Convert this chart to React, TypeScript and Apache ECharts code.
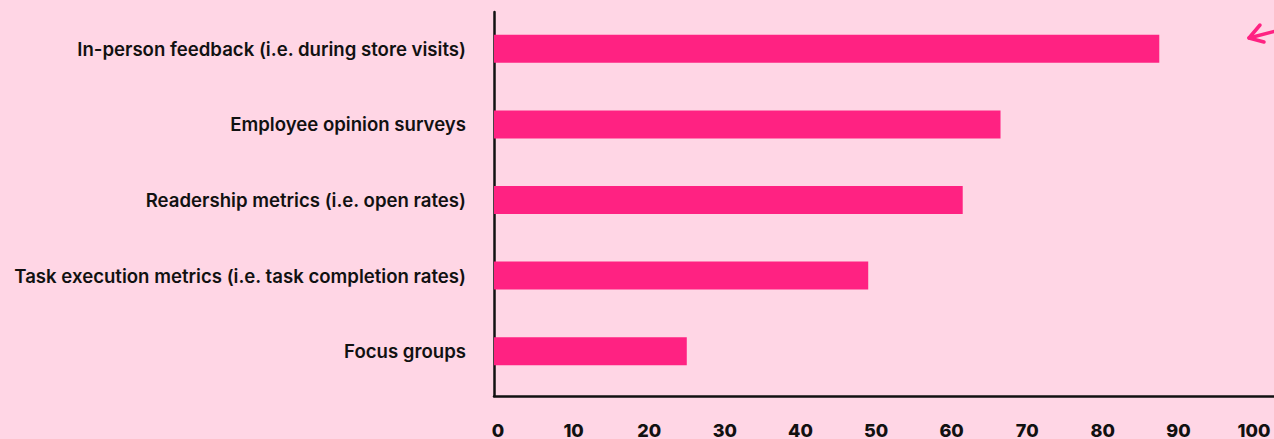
import React, { useEffect, useRef } from "react";
import * as echarts from "echarts";

const categories = [
  "In-person feedback (i.e. during store visits)",
  "Employee opinion surveys",
  "Readership metrics (i.e. open rates)",
  "Task execution metrics (i.e. task completion rates)",
  "Focus groups",
];
const values = [88, 67, 62, 49.5, 25.5];
const xMin = 0;
const xMax = 100;
const xStep = 10;
// the drawn axis line runs to the right edge; extend its scale so ticks match the bars
const xAxisLineMax = 103.17;

const BG = "#FFD6E5";
const PINK = "#FF2282";
const FONT = "Inter, 'Noto Sans', sans-serif";

export default function App() {
  const ref = useRef<HTMLDivElement>(null);
  useEffect(() => {
    document.body.style.margin = "0";
    const chart = echarts.init(ref.current!, undefined, { renderer: "svg" });
    chart.setOption({
      animation: false,
      backgroundColor: BG,
      grid: [
        { left: 494, right: 24, top: 11, height: 378, containLabel: false },
        { left: 494, right: 0, top: 12, bottom: 40, containLabel: false },
      ],
      xAxis: [
        {
          gridIndex: 0,
          type: "value",
          min: xMin,
          max: xMax,
          interval: xStep,
          show: false,
        },
        {
          gridIndex: 1,
          type: "value",
          min: xMin,
          max: xAxisLineMax,
          interval: xStep,
          axisLine: { show: true, lineStyle: { color: "#111", width: 2.5 } },
          axisTick: { show: false },
          splitLine: { show: false },
          axisLabel: {
            margin: 25,
            color: "#111",
            fontFamily: FONT,
            fontSize: 18,
            fontWeight: 800,
            padding: [0, 0, 0, 8],
            showMaxLabel: false,
            formatter: (v: number) => (v % xStep === 0 && v <= xMax ? String(v) : ""),
          },
        },
      ],
      yAxis: [
        {
          gridIndex: 0,
          type: "category",
          data: categories,
          inverse: true,
          axisLine: { show: false },
          axisTick: { show: false },
          axisLabel: {
            margin: 28,
            color: "#111",
            fontFamily: FONT,
            fontSize: 18.6,
            fontWeight: 600,
          },
        },
        {
          gridIndex: 1,
          type: "value",
          min: 0,
          max: 1,
          axisLine: { show: true, lineStyle: { color: "#111", width: 2.5 } },
          axisTick: { show: false },
          axisLabel: { show: false },
          splitLine: { show: false },
        },
      ],
      series: [
        {
          type: "bar",
          xAxisIndex: 0,
          yAxisIndex: 0,
          data: values,
          barWidth: 28,
          itemStyle: { color: PINK },
        },
      ],
      graphic: [
        {
          type: "polyline",
          shape: { points: [[1260, 25], [1249, 38], [1264, 42]] },
          style: { stroke: PINK, lineWidth: 3.5, fill: null, lineCap: "round", lineJoin: "round" },
        },
        {
          type: "line",
          shape: { x1: 1249, y1: 38, x2: 1276, y2: 31 },
          style: { stroke: PINK, lineWidth: 3.5, lineCap: "round" },
        },
      ],
    });
    return () => chart.dispose();
  }, []);
  return <div ref={ref} style={{ width: 1274, height: 439 }} />;
}
